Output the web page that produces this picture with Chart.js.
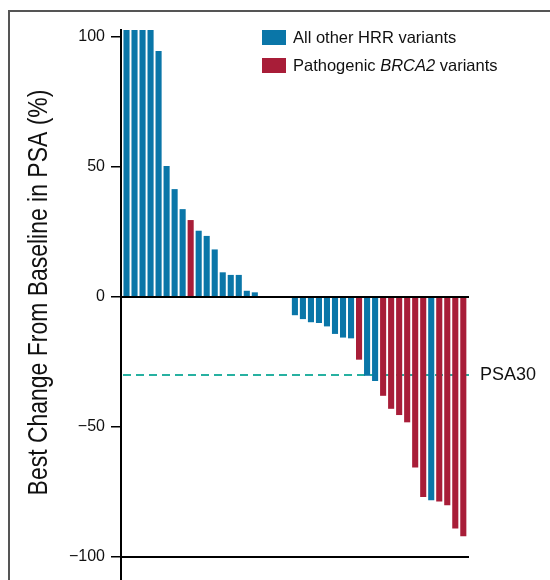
<!DOCTYPE html>
<html>
<head>
<meta charset="utf-8">
<script src="https://cdn.jsdelivr.net/npm/chart.js@4/dist/chart.umd.min.js"></script>
<style>
  html, body { margin: 0; padding: 0; background: #fff; }
  #wrap { width: 550px; height: 580px; position: relative; }
</style>
</head>
<body>
<div id="wrap"><canvas id="c" width="550" height="580"></canvas></div>
<script>
// Patients ordered by best PSA change (waterfall)
const patients = [1, 2, 3, 4, 5, 6, 7, 8, 9, 10, 11, 12, 13, 14, 15, 16, 17, 18, 19, 20, 21, 22,
  23, 24, 25, 26, 27, 28, 29, 30, 31, 32, 33, 34, 35, 36, 37, 38, 39, 40, 41, 42, 43];

// Best change from baseline in PSA (%); first four exceed the axis cap
const psaChange = [160, 140, 125, 110, 94.6, 50.4, 41.5, 33.8, 29.6, 25.5, 23.5, 18.3, 9.5, 8.5,
  8.5, 2.4, 1.8, 0, 0, 0, 0, -7.0, -8.5, -9.7, -10.0, -11.3, -14.2, -15.6, -15.9, -24.1,
  -30.3, -32.3, -38.0, -43.0, -45.4, -48.2, -65.6, -76.9, -78.2, -78.7, -80.1, -89.0, -92.0];

// Variant group per patient: H = all other HRR variants, B = pathogenic BRCA2 variants
const variantGroup = ['H', 'H', 'H', 'H', 'H', 'H', 'H', 'H', 'B', 'H', 'H', 'H', 'H', 'H',
  'H', 'H', 'H', 'H', 'H', 'H', 'H', 'H', 'H', 'H', 'H', 'H', 'H', 'H', 'H', 'B',
  'H', 'H', 'B', 'B', 'B', 'B', 'B', 'B', 'H', 'B', 'B', 'B', 'B'];

const yTicks = [-100, -50, 0, 50, 100];
const psaThreshold = -30;
const psaLabel = 'PSA30';
const axisTitle = 'Best Change From Baseline in PSA (%)';

const groupColors = { H: '#0a76a8', B: '#a81d38' };

// Legend rows: plain prefix, italic gene name, plain suffix
const legendRows = [
  { group: 'H', parts: [['All other HRR variants', false]] },
  { group: 'B', parts: [['Pathogenic ', false], ['BRCA2', true], [' variants', false]] }
];

const FONT = '"Liberation Sans", Arial, Helvetica, sans-serif';

const decor = {
  id: 'decor',
  beforeDatasetsDraw(chart) {
    const { ctx, chartArea: a, scales: { y } } = chart;
    const py = Math.round(y.getPixelForValue(psaThreshold));
    ctx.save();
    ctx.strokeStyle = '#27b1a1';
    ctx.lineWidth = 2;
    ctx.setLineDash([8, 5]);
    ctx.beginPath();
    ctx.moveTo(a.left + 2, py);
    ctx.lineTo(a.right, py);
    ctx.stroke();
    ctx.restore();
  },
  afterDatasetsDraw(chart) {
    const { ctx, chartArea: a, scales: { y } } = chart;
    ctx.save();
    ctx.strokeStyle = '#000';
    ctx.lineWidth = 2;
    // zero line and bottom axis line
    const y0 = Math.round(y.getPixelForValue(0));
    ctx.beginPath();
    ctx.moveTo(a.left, y0);
    ctx.lineTo(a.right, y0);
    ctx.moveTo(a.left, a.bottom);
    ctx.lineTo(a.right, a.bottom);
    // y axis continues down past the last tick
    ctx.moveTo(a.left, a.bottom);
    ctx.lineTo(a.left, chart.height);
    ctx.stroke();

    // threshold label
    ctx.fillStyle = '#111';
    ctx.font = '18px ' + FONT;
    ctx.textAlign = 'left';
    ctx.textBaseline = 'middle';
    ctx.fillText(psaLabel, a.right + 11, y.getPixelForValue(psaThreshold));

    // y axis title, narrow setting
    ctx.save();
    ctx.translate(47, (a.top + a.bottom) / 2 - 1);
    ctx.rotate(-Math.PI / 2);
    ctx.scale(0.82, 1);
    ctx.font = '28px ' + FONT;
    ctx.textAlign = 'center';
    ctx.textBaseline = 'alphabetic';
    ctx.fillText(axisTitle, 0, 0);
    ctx.restore();

    // legend
    legendRows.forEach((row, i) => {
      const top = 30 + i * 28;
      ctx.fillStyle = groupColors[row.group];
      ctx.fillRect(262, top, 24, 15);
      let x = 293;
      ctx.fillStyle = '#111';
      ctx.textBaseline = 'middle';
      row.parts.forEach(([text, italic]) => {
        ctx.font = (italic ? 'italic ' : '') + '16.5px ' + FONT;
        ctx.fillText(text, x, top + 8);
        x += ctx.measureText(text).width;
      });
    });

    // figure frame
    ctx.strokeStyle = '#555';
    ctx.lineWidth = 2;
    ctx.beginPath();
    ctx.moveTo(9, chart.height);
    ctx.lineTo(9, 11);
    ctx.lineTo(chart.width, 11);
    ctx.stroke();
    ctx.restore();
  }
};

new Chart(document.getElementById('c'), {
  type: 'bar',
  data: {
    datasets: [{
      data: patients.map((p, i) => ({ x: p, y: psaChange[i] })),
      backgroundColor: variantGroup.map(g => groupColors[g]),
      borderWidth: 0,
      barPercentage: 0.76,
      categoryPercentage: 1,
      clip: 0
    }]
  },
  options: {
    responsive: false,
    animation: false,
    devicePixelRatio: 1,
    layout: { padding: { left: 0, top: 30, right: 81, bottom: 23 } },
    plugins: { legend: { display: false }, tooltip: { enabled: false } },
    scales: {
      x: {
        type: 'linear',
        min: 0.314,
        max: 43.71,
        offset: false,
        grid: { offset: false },
        display: false
      },
      y: {
        min: -100,
        max: 102.7,
        afterBuildTicks: s => { s.ticks = yTicks.map(v => ({ value: v })); },
        afterFit: s => { s.width = 121; },
        grid: { drawOnChartArea: false, tickLength: 10, color: '#000', lineWidth: 1.5 },
        border: { display: true, color: '#000', width: 2 },
        ticks: {
          padding: 6,
          color: '#111',
          font: { family: FONT, size: 16 },
          callback: v => String(v).replace('-', '\u2212')
        }
      }
    }
  },
  plugins: [decor]
});
</script>
</body>
</html>
